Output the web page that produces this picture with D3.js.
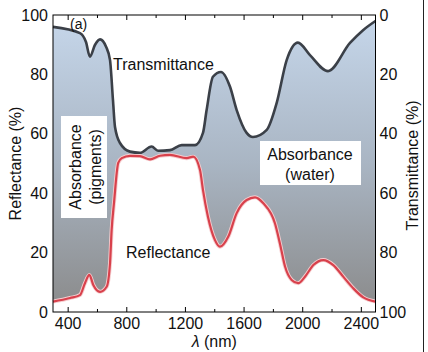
<!DOCTYPE html>
<meta charset="utf-8">
<style>
body { margin: 0; background: #fff; }
text { font-family: "Liberation Sans", Arial, sans-serif; fill: #111; }
.tick text { font-size: 16px; }
.line { fill: none; }
</style>
<svg width="428" height="352"></svg>
<script src="https://cdn.jsdelivr.net/npm/d3@7"></script>
<script>

// wavelength (nm) / transmittance (%, right axis, inverted)
var transWl = [300, 484, 525, 552, 586, 621, 662, 689, 709, 723, 757, 825, 893, 973, 1016, 1098, 1178, 1269, 1323, 1348, 1391, 1446, 1507, 1553, 1621, 1664, 1758, 1826, 1894, 1971, 2053, 2176, 2326, 2415, 2500];
var transVal = [4.0, 6.1, 9.1, 14.0, 10.1, 8.2, 10.7, 15.2, 28.6, 37.7, 43.1, 46.0, 46.4, 44.3, 45.7, 45.5, 43.8, 43.8, 39.7, 32.0, 20.8, 19.2, 24.1, 32.0, 39.7, 41.1, 38.7, 29.6, 15.2, 9.3, 13.5, 18.9, 9.4, 5.1, 2.0];

// wavelength (nm) / reflectance (%, left axis)
var reflWl = [300, 416, 484, 518, 548, 575, 621, 666, 689, 700, 716, 745, 769, 825, 893, 962, 1030, 1098, 1212, 1257, 1303, 1323, 1357, 1405, 1439, 1496, 1553, 1621, 1678, 1735, 1814, 1848, 1883, 1928, 1973, 2019, 2076, 2144, 2212, 2280, 2348, 2417, 2500];
var reflVal = [3.5, 4.7, 5.7, 9.7, 12.5, 9.1, 6.8, 8.5, 16.5, 27.6, 36.7, 50.2, 51.8, 52.6, 52.5, 51.4, 52.6, 52.9, 51.8, 52.3, 47.8, 41.1, 32.1, 24.2, 22.0, 25.4, 33.3, 37.7, 38.6, 36.6, 29.9, 23.1, 15.3, 10.8, 9.7, 11.9, 15.8, 17.5, 15.8, 11.9, 8.0, 4.9, 3.5];

var xMajor = [400, 800, 1200, 1600, 2000, 2400];
var xMinor = [600, 1000, 1400, 1800, 2200];
var yTicks = [0, 20, 40, 60, 80, 100];

var svg = d3.select("svg"),
    margin = {top: 15, right: 52.5, bottom: 40, left: 53},
    width = svg.attr("width") - margin.left - margin.right,
    height = svg.attr("height") - margin.top - margin.bottom,
    g = svg.append("g").attr("transform", "translate(" + margin.left + "," + margin.top + ")");

var x = d3.scaleLinear().domain([300, 2500]).range([0, width]),
    yL = d3.scaleLinear().domain([0, 100]).range([height, 0]),
    yR = d3.scaleLinear().domain([0, 100]).range([0, height]);

var trans = transWl.map(function(w, i) { return {wl: w, v: transVal[i]}; });
var refl = reflWl.map(function(w, i) { return {wl: w, v: reflVal[i]}; });

var defs = svg.append("defs");
var grad = defs.append("linearGradient")
    .attr("id", "absorb")
    .attr("gradientUnits", "userSpaceOnUse")
    .attr("x1", 0).attr("y1", 0).attr("x2", 0).attr("y2", height);
grad.append("stop").attr("offset", "0%").attr("stop-color", "#c6d7eb");
grad.append("stop").attr("offset", "50%").attr("stop-color", "#a9b5c3");
grad.append("stop").attr("offset", "100%").attr("stop-color", "#8a8a8a");

// keep only the part above the reflectance curve
defs.append("clipPath").attr("id", "aboveRefl")
  .append("path")
    .attr("d", d3.area()
      .curve(d3.curveMonotoneX)
      .x(function(d) { return x(d.wl); })
      .y0(0)
      .y1(function(d) { return yL(d.v); })(refl));

g.append("path")
    .attr("clip-path", "url(#aboveRefl)")
    .attr("fill", "url(#absorb)")
    .attr("d", d3.area()
      .curve(d3.curveMonotoneX)
      .x(function(d) { return x(d.wl); })
      .y0(height)
      .y1(function(d) { return yR(d.v); })(trans));

var lineT = d3.line()
    .curve(d3.curveMonotoneX)
    .x(function(d) { return x(d.wl); })
    .y(function(d) { return yR(d.v); });

var lineR = d3.line()
    .curve(d3.curveMonotoneX)
    .x(function(d) { return x(d.wl); })
    .y(function(d) { return yL(d.v); });

g.append("path").attr("class", "line")
    .attr("d", lineR(refl))
    .style("stroke", "#f6cdcf").style("stroke-width", 4);
g.append("path").attr("class", "line")
    .attr("d", lineR(refl))
    .style("stroke", "#d8414c").style("stroke-width", 2.2);

g.append("path").attr("class", "line")
    .attr("d", lineT(trans))
    .style("stroke", "#3b4048").style("stroke-width", 2.6);

// white label boxes
g.append("rect")
    .attr("x", 8).attr("y", 101).attr("width", 46).attr("height", 102)
    .attr("fill", "#fff");
g.append("g")
    .attr("transform", "translate(" + 31 + "," + 152 + ") rotate(-90)")
  .selectAll("text")
  .data(["Absorbance", "(pigments)"])
  .enter().append("text")
    .attr("x", 0)
    .attr("y", function(d, i) { return i * 20 - 3; })
    .attr("text-anchor", "middle")
    .style("font-size", "16px")
    .text(function(d) { return d; });

g.append("rect")
    .attr("x", 207).attr("y", 126).attr("width", 101).attr("height", 44)
    .attr("fill", "#fff");
g.selectAll(".water")
  .data(["Absorbance", "(water)"])
  .enter().append("text")
    .attr("class", "water")
    .attr("x", 257)
    .attr("y", function(d, i) { return 145 + i * 20; })
    .attr("text-anchor", "middle")
    .style("font-size", "16px")
    .text(function(d) { return d; });

g.append("text").attr("x", 60).attr("y", 55).style("font-size", "16px").text("Transmittance");
g.append("text").attr("x", 73).attr("y", 243).style("font-size", "16px").text("Reflectance");
g.append("text").attr("x", 17).attr("y", 14).style("font-size", "14px").text("(a)");

// frame
g.append("rect")
    .attr("width", width).attr("height", height)
    .attr("fill", "none").attr("stroke", "#000").attr("stroke-width", 1);

// bottom axis
var xb = g.append("g")
    .attr("transform", "translate(0," + height + ")")
    .call(d3.axisBottom(x).tickValues(xMajor).tickFormat(d3.format("d")).tickSizeInner(-5).tickSizeOuter(0).tickPadding(6));
xb.select(".domain").remove();
xb.selectAll(".tick line").attr("stroke", "#000");

var xbm = g.append("g")
    .attr("transform", "translate(0," + height + ")")
    .call(d3.axisBottom(x).tickValues(xMinor).tickFormat("").tickSizeInner(-3).tickSizeOuter(0));
xbm.select(".domain").remove();

// top axis
var xt = g.append("g")
    .call(d3.axisTop(x).tickValues(xMajor).tickFormat("").tickSizeInner(-5).tickSizeOuter(0));
xt.select(".domain").remove();
var xtm = g.append("g")
    .call(d3.axisTop(x).tickValues(xMinor).tickFormat("").tickSizeInner(-3).tickSizeOuter(0));
xtm.select(".domain").remove();

// left axis
var yl = g.append("g")
    .call(d3.axisLeft(yL).tickValues(yTicks).tickSize(0).tickPadding(5));
yl.select(".domain").remove();

// right axis
var yr = g.append("g")
    .attr("transform", "translate(" + width + ",0)")
    .call(d3.axisRight(yR).tickValues(yTicks).tickSize(0).tickPadding(4));
yr.select(".domain").remove();

svg.selectAll(".tick text").attr("fill", "#111").style("font-family", "'Liberation Sans', Arial, sans-serif");

// axis titles
svg.append("text")
    .attr("transform", "translate(21," + (margin.top + height / 2) + ") rotate(-90)")
    .attr("text-anchor", "middle")
    .style("font-size", "16px")
    .text("Reflectance (%)");

svg.append("text")
    .attr("transform", "translate(418," + (margin.top + height / 2 + 2) + ") rotate(-90)")
    .attr("text-anchor", "middle")
    .style("font-size", "16px")
    .text("Transmittance (%)");

var xl = svg.append("text")
    .attr("x", margin.left + width / 2)
    .attr("y", 347)
    .attr("text-anchor", "middle")
    .style("font-size", "16px");
xl.append("tspan").style("font-style", "italic").text("λ");
xl.append("tspan").text(" (nm)");

// image edge line on the right
svg.append("line")
    .attr("x1", 423.5).attr("x2", 423.5).attr("y1", 0).attr("y2", 352)
    .attr("stroke", "#222").attr("stroke-width", 1);

</script>
